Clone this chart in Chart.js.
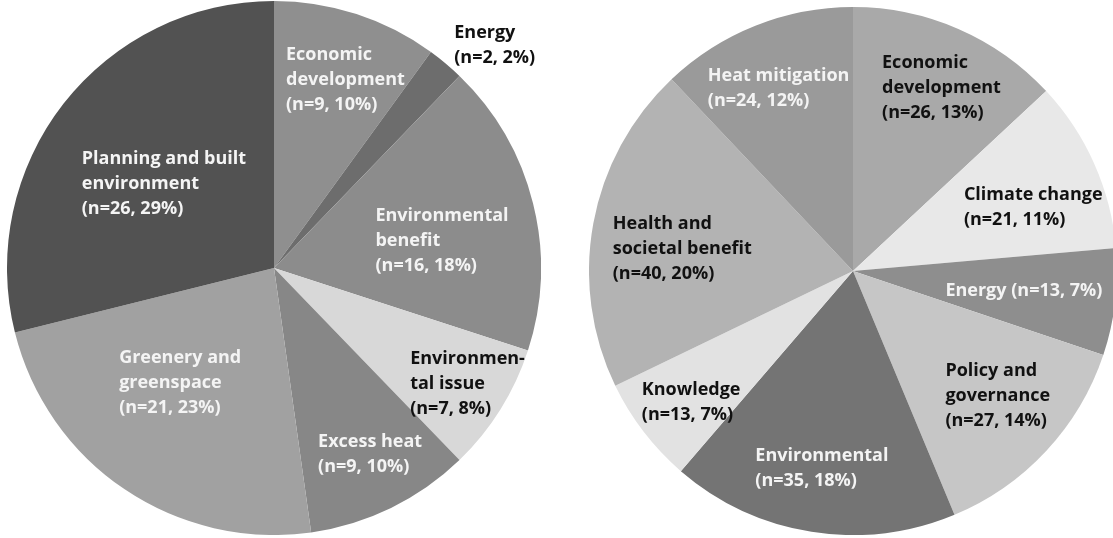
<!DOCTYPE html>
<html>
<head>
<meta charset="utf-8">
<script src="https://cdn.jsdelivr.net/npm/chart.js@4.4.1/dist/chart.umd.min.js"></script>
<style>
  html, body { margin: 0; padding: 0; background: #fff; }
  body { width: 1113px; height: 538px; position: relative; overflow: hidden; }
  .box { position: absolute; }
  #leftBox { left: 7px; top: 1px; width: 534px; height: 534px; }
  #rightBox { left: 589px; top: 7px; width: 528px; height: 528px; }
</style>
</head>
<body>
<div class="box" id="leftBox"><canvas id="leftChart"></canvas></div>
<div class="box" id="rightBox"><canvas id="rightChart"></canvas></div>
<script>
// Left pie: categories, counts, shares
const leftCategories = [
  ['Economic', 'development'],
  ['Energy'],
  ['Environmental', 'benefit'],
  ['Environmen-', 'tal issue'],
  ['Excess heat'],
  ['Greenery and', 'greenspace'],
  ['Planning and built', 'environment']
];
const leftCounts = [9, 2, 16, 7, 9, 21, 26];
const leftPercents = [10, 2, 18, 8, 10, 23, 29];

// Right pie
const rightCategories = [
  ['Economic', 'development'],
  ['Climate change'],
  ['Energy'],
  ['Policy and', 'governance'],
  ['Environmental'],
  ['Knowledge'],
  ['Health and', 'societal benefit'],
  ['Heat mitigation']
];
const rightCounts = [26, 21, 13, 27, 35, 13, 40, 24];
const rightPercents = [13, 11, 7, 14, 18, 7, 20, 12];

// Slice fills (grayscale)
const leftColors = ['#8f8f8f', '#6d6d6d', '#8c8c8c', '#d8d8d8', '#878787', '#a1a1a1', '#525252'];
const rightColors = ['#a9a9a9', '#e8e8e8', '#8e8e8e', '#c6c6c6', '#747474', '#e2e2e2', '#b3b3b3', '#9a9a9a'];

// Label placement relative to pie centre, in units of radius (x, y of first line), plus text colour
// inline = count goes on the same line as the name
const leftLabelLayout = [
  { dx: 0.045, dy: -0.80, color: '#f4f4f4' },
  { dx: 0.675, dy: -0.88, color: '#111111' },
  { dx: 0.38, dy: -0.195, color: '#f4f4f4' },
  { dx: 0.51, dy: 0.34, color: '#111111' },
  { dx: 0.165, dy: 0.65, color: '#f4f4f4' },
  { dx: -0.58, dy: 0.335, color: '#f4f4f4' },
  { dx: -0.72, dy: -0.41, color: '#f4f4f4' }
];
const rightLabelLayout = [
  { dx: 0.11, dy: -0.79, color: '#111111' },
  { dx: 0.42, dy: -0.29, color: '#111111' },
  { dx: 0.35, dy: 0.075, color: '#f4f4f4', inline: true },
  { dx: 0.35, dy: 0.38, color: '#111111' },
  { dx: -0.37, dy: 0.70, color: '#f4f4f4' },
  { dx: -0.80, dy: 0.45, color: '#111111' },
  { dx: -0.91, dy: -0.18, color: '#111111' },
  { dx: -0.55, dy: -0.74, color: '#f4f4f4' }
];

const labelFont = 'bold 18px "Open Sans", Lato, sans-serif';
const lineHeight = 25;

const sliceLabels = {
  id: 'sliceLabels',
  afterDatasetsDraw(chart, args, opts) {
    const ctx = chart.ctx;
    const meta = chart.getDatasetMeta(0);
    ctx.save();
    ctx.font = labelFont;
    ctx.textAlign = 'left';
    ctx.textBaseline = 'middle';
    meta.data.forEach((arc, i) => {
      const lay = opts.layout[i];
      const r = arc.outerRadius;
      const x = arc.x + lay.dx * r;
      let y = arc.y + lay.dy * r;
      const stat = '(n=' + opts.counts[i] + ', ' + opts.percents[i] + '%)';
      let lines = opts.names[i].slice();
      if (lay.inline) {
        lines[lines.length - 1] += ' ' + stat;
      } else {
        lines.push(stat);
      }
      ctx.fillStyle = lay.color;
      lines.forEach(line => {
        ctx.fillText(line, x, y);
        y += lineHeight;
      });
    });
    ctx.restore();
  }
};

function makePie(id, names, counts, percents, colors, layout) {
  const el = document.getElementById(id);
  new Chart(el.getContext('2d'), {
    type: 'pie',
    data: {
      labels: names.map(n => n.join(' ')),
      datasets: [{
        data: counts,
        backgroundColor: colors,
        borderWidth: 0
      }]
    },
    options: {
      responsive: true,
      maintainAspectRatio: true,
      aspectRatio: 1,
      animation: false,
      layout: { padding: 0 },
      plugins: {
        legend: { display: false },
        tooltip: { enabled: false },
        sliceLabels: { names: names, counts: counts, percents: percents, layout: layout }
      }
    },
    plugins: [sliceLabels]
  });
}

makePie('leftChart', leftCategories, leftCounts, leftPercents, leftColors, leftLabelLayout);
makePie('rightChart', rightCategories, rightCounts, rightPercents, rightColors, rightLabelLayout);
</script>
</body>
</html>
